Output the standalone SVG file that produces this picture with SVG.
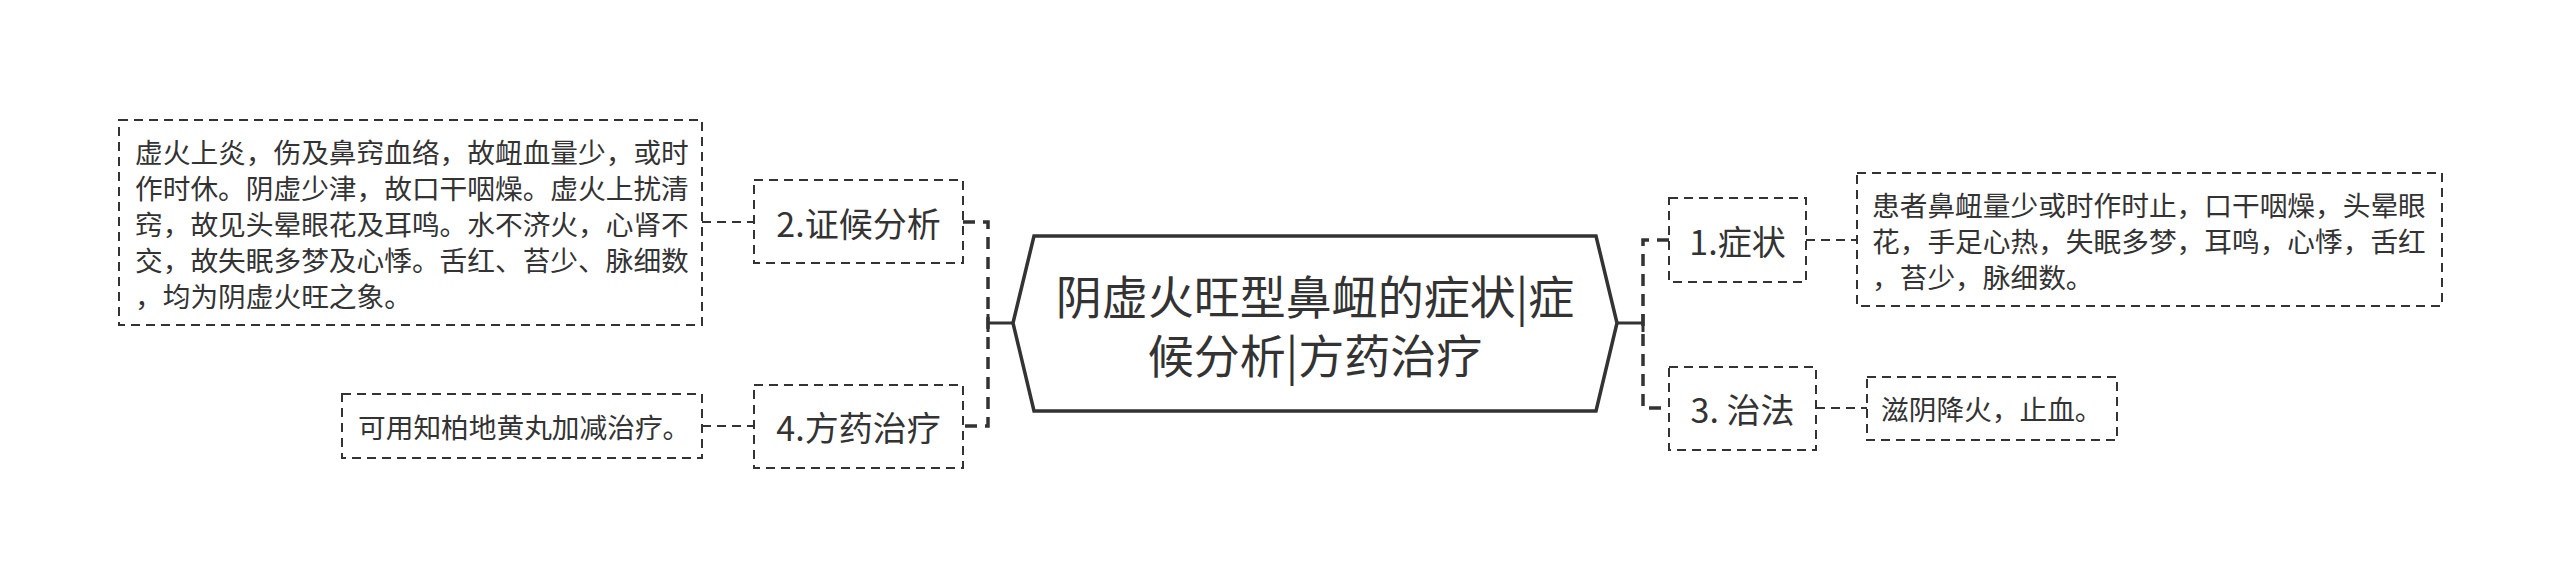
<svg xmlns="http://www.w3.org/2000/svg" width="2560" height="587" viewBox="0 0 2560 587">
<style>
.box{fill:#fff;stroke:#333;stroke-width:2;stroke-dasharray:9 6}
.conn{fill:none;stroke:#333;stroke-width:2;stroke-dasharray:9 6}
.spine{fill:none;stroke:#333;stroke-width:3.5;stroke-dasharray:12 8}
.solid{fill:none;stroke:#333;stroke-width:3}
.hex{fill:#fff;stroke:#333;stroke-width:3.5}
text{font-family:"Noto Sans CJK SC","Noto Sans",sans-serif;fill:#333;dominant-baseline:central}
.t{font-size:27.7px}
.n{font-size:34px;text-anchor:middle}
.c{font-size:46px;text-anchor:middle}
</style>
<rect width="2560" height="587" fill="#fff"/>
<g id="connectors">
<path class="conn" d="M702,222H754"/>
<path class="conn" d="M702,426H754"/>
<path class="spine" d="M963,222H988V426H963"/>
<path class="solid" d="M988,323H1013"/>
<path class="solid" d="M988,314V332" stroke-width="4"/>
<path class="spine" d="M1669,240H1643V408H1669"/>
<path class="solid" d="M1617,323H1643"/>
<path class="solid" d="M1643,314V332" stroke-width="4"/>
<path class="conn" d="M1806,240H1857"/>
<path class="conn" d="M1816,408H1867"/>
</g>
<g id="center">
<polygon class="hex" points="1013,323 1034,236 1596,236 1617,323 1596,411 1034,411"/>
<text class="c" x="1315" y="294">阴虚火旺型鼻衄的症状|症</text>
<text class="c" x="1315" y="353">候分析|方药治疗</text>
</g>
<g id="node-2">
<rect class="box" x="754" y="180" width="209" height="83"/>
<text class="n" x="858.5" y="222">2.证候分析</text>
</g>
<g id="node-2-detail">
<rect class="box" x="119" y="120" width="583" height="205"/>
<text class="t" x="135" y="150.5">虚火上炎，伤及鼻窍血络，故衄血量少，或时</text>
<text class="t" x="135" y="186.5">作时休。阴虚少津，故口干咽燥。虚火上扰清</text>
<text class="t" x="135" y="222.5">窍，故见头晕眼花及耳鸣。水不济火，心肾不</text>
<text class="t" x="135" y="258.5">交，故失眠多梦及心悸。舌红、苔少、脉细数</text>
<text class="t" x="135" y="294.5">，均为阴虚火旺之象。</text>
</g>
<g id="node-4">
<rect class="box" x="754" y="385" width="209" height="83"/>
<text class="n" x="858.5" y="426">4.方药治疗</text>
</g>
<g id="node-4-detail">
<rect class="box" x="342" y="394" width="360" height="64"/>
<text class="t" x="358" y="426">可用知柏地黄丸加减治疗。</text>
</g>
<g id="node-1">
<rect class="box" x="1669" y="198" width="137" height="84"/>
<text class="n" x="1737.5" y="240">1.症状</text>
</g>
<g id="node-1-detail">
<rect class="box" x="1857" y="173" width="585" height="133"/>
<text class="t" x="1872" y="204">患者鼻衄量少或时作时止，口干咽燥，头晕眼</text>
<text class="t" x="1872" y="240">花，手足心热，失眠多梦，耳鸣，心悸，舌红</text>
<text class="t" x="1872" y="276">，苔少，脉细数。</text>
</g>
<g id="node-3">
<rect class="box" x="1669" y="367" width="147" height="83"/>
<text class="n" x="1742.5" y="408">3. 治法</text>
</g>
<g id="node-3-detail">
<rect class="box" x="1867" y="377" width="250" height="63"/>
<text class="t" x="1881" y="408">滋阴降火，止血。</text>
</g>
</svg>
